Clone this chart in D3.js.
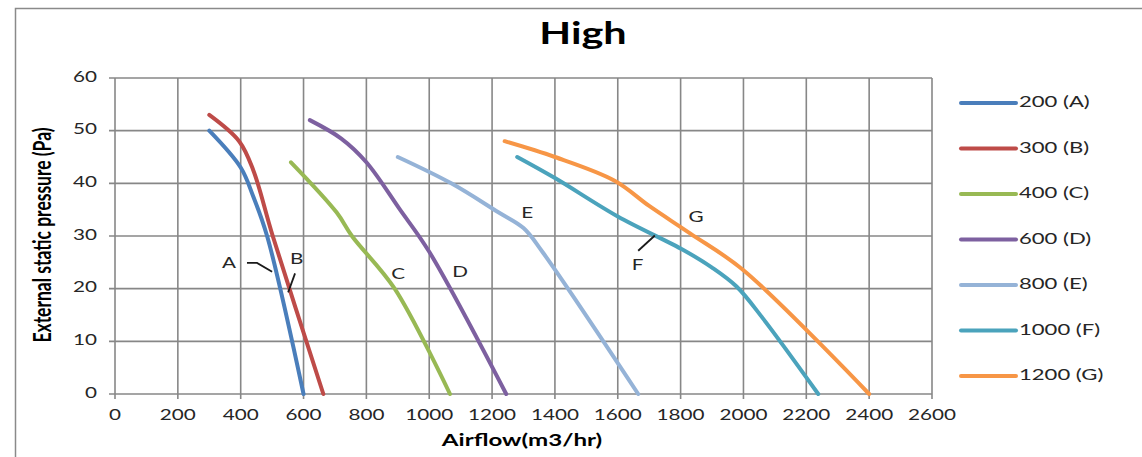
<!DOCTYPE html>
<html><head><meta charset="utf-8">
<script src="https://cdn.jsdelivr.net/npm/d3@7"></script>
<style>body{margin:0;background:#fff}svg{display:block}</style>
</head><body>
<svg id="chart" width="1142" height="457"></svg>
<script>
// ---------- data ----------
const chartTitle = "High";
const xAxisTitle = "Airflow(m3/hr)";
const yAxisTitle = "External static pressure (Pa)";
const xTickValues = [0,200,400,600,800,1000,1200,1400,1600,1800,2000,2200,2400,2600];
const yTickValues = [0,10,20,30,40,50,60];
const seriesNames = ["200 (A)","300 (B)","400 (C)","600 (D)","800 (E)","1000 (F)","1200 (G)"];
const seriesColors = ["#4A7EBB","#BE4B48","#98B954","#7D60A0","#95B3D7","#4BA3BC","#F79646"];
const curveA = [[300,50],[400,43],[440,37.5],[484,30],[600,0]];
const curveB = [[300,53],[395,48],[440,42.5],[502,30],[663,0]];
const curveC = [[560,44],[705,34.5],[754,30],[890,20],[1066,0]];
const curveD = [[620,52],[720,48.5],[800,44],[907,35],[1000,27],[1245,0]];
const curveE = [[900,45],[1070,40],[1220,34.5],[1300,31.5],[1360,27],[1665,0]];
const curveF = [[1280,45],[1400,41],[1600,33.7],[1810,27.3],[1900,24],[1978,20.4],[2060,14.5],[2238,0]];
const curveG = [[1240,48],[1400,45],[1590,40.5],[1700,35.7],[1830,30.5],[2000,23.5],[2400,0]];
const allCurves = [curveA,curveB,curveC,curveD,curveE,curveF,curveG];
const curveLabels = [
  {t:"A", x:363, y:24.7}, {t:"B", x:578, y:25.4}, {t:"C", x:901, y:22.5},
  {t:"D", x:1098, y:22.9}, {t:"E", x:1312, y:34.1}, {t:"F", x:1663, y:24.2}, {t:"G", x:1849, y:33.4}
];
const leaderA = [[420,24.9],[452,24.9],[500,23.2]];
const leaderB = [[573,22.9],[551,19.3]];
const leaderF = [[1665,27.2],[1718,30.1]];
const leaders = [leaderA, leaderB, leaderF];

// ---------- layout ----------
const S = 1.38; // horizontal text stretch of the original picture
const font = "Lato, 'Open Sans', sans-serif";
const svg = d3.select("#chart");
const x = d3.scaleLinear().domain([0,2600]).range([115,932]);
const y = d3.scaleLinear().domain([0,60]).range([394,78]);

function txt(px, py, s, o) {
  o = o || {};
  return svg.append("text")
    .attr("transform", `translate(${px},${py}) scale(${S},1)`)
    .attr("text-anchor", o.anchor || "middle")
    .attr("dominant-baseline", o.base || "middle")
    .attr("font-family", font)
    .attr("font-size", o.size || 15)
    .attr("font-weight", o.bold ? "bold" : "normal")
    .attr("fill", o.fill || "#262626")
    .text(s);
}

// outer frame
svg.append("rect").attr("x",15.5).attr("y",8.5).attr("width",1300).attr("height",600)
  .attr("fill","none").attr("stroke","#8a8a8a").attr("stroke-width",1.5);

// grid
const gridColor = "#878787";
svg.append("g").selectAll("line").data(xTickValues).join("line")
  .attr("x1",d=>x(d)).attr("x2",d=>x(d)).attr("y1",y(60)).attr("y2",y(0)+5)
  .attr("stroke",gridColor).attr("stroke-width",1.6);
svg.append("g").selectAll("line").data(yTickValues).join("line")
  .attr("x1",x(0)-6).attr("x2",x(2600)).attr("y1",d=>y(d)).attr("y2",d=>y(d))
  .attr("stroke",gridColor).attr("stroke-width",1.6);

// tick labels
xTickValues.forEach(v => txt(x(v), 416, String(v), {size:15}));
yTickValues.forEach(v => txt(97, y(v), String(v), {size:15, anchor:"end"}));

// curves
const line = d3.line().x(d=>x(d[0])).y(d=>y(d[1])).curve(d3.curveCatmullRom.alpha(0.5));
svg.append("g").selectAll("path").data(allCurves).join("path")
  .attr("d", line).attr("fill","none")
  .attr("stroke",(d,i)=>seriesColors[i]).attr("stroke-width",4)
  .attr("stroke-linecap","round").attr("stroke-linejoin","round");

// leader lines
const straight = d3.line().x(d=>x(d[0])).y(d=>y(d[1]));
svg.append("g").selectAll("path").data(leaders).join("path")
  .attr("d", straight).attr("fill","none").attr("stroke","#1a1a1a").attr("stroke-width",1.8);

// curve labels
curveLabels.forEach(l => txt(x(l.x), y(l.y), l.t, {size:15}));

// title & axis titles
txt(583, 36, chartTitle, {size:30, bold:true, fill:"#000"});
txt(522, 442, xAxisTitle, {size:17.5, bold:true, fill:"#000"});
svg.append("text")
  .attr("transform", `translate(45,235) scale(${S},1) rotate(-90)`)
  .attr("text-anchor","middle").attr("dominant-baseline","middle")
  .attr("font-family",font).attr("font-size",17.5).attr("font-weight","bold").attr("fill","#000")
  .text(yAxisTitle);

// legend
const legendY = d3.scalePoint().domain(seriesNames).range([103,376]);
const lg = svg.append("g").selectAll("g").data(seriesNames).join("g");
lg.append("line").attr("x1",961).attr("x2",1016)
  .attr("y1",d=>legendY(d)).attr("y2",d=>legendY(d))
  .attr("stroke",(d,i)=>seriesColors[i]).attr("stroke-width",4).attr("stroke-linecap","round");
seriesNames.forEach(n => txt(1019, legendY(n), n, {size:16, anchor:"start"}));
</script>
</body></html>
